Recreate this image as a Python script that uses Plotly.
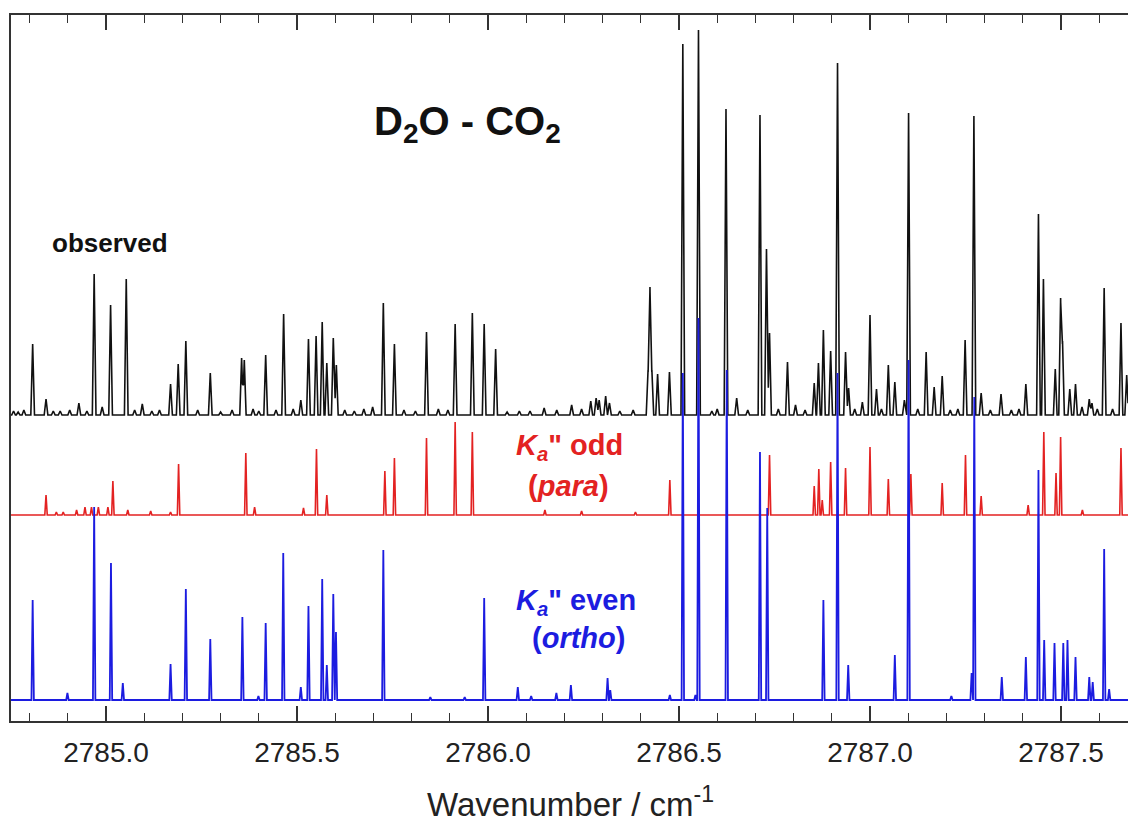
import plotly.graph_objects as go

# ---------------- data ----------------
# wavenumber axis limits (cm^-1)
x_min, x_max = 2784.7513, 2787.6754
tick_vals = [2785.0, 2785.5, 2786.0, 2786.5, 2787.0, 2787.5]
tick_text = ["2785.0", "2785.5", "2786.0", "2786.5", "2787.0", "2787.5"]

# observed spectrum: line positions (cm^-1) and intensities (arb. units)
obs_pos = [2784.758, 2784.770, 2784.785, 2784.808, 2784.843, 2784.862, 2784.880, 2784.905,
           2784.929, 2784.950, 2784.969, 2784.990, 2785.012, 2785.053, 2785.075, 2785.095,
           2785.120, 2785.140, 2785.169, 2785.189, 2785.209, 2785.240, 2785.273, 2785.300,
           2785.330, 2785.355, 2785.362, 2785.385, 2785.400, 2785.418, 2785.445, 2785.465,
           2785.490, 2785.510, 2785.530, 2785.550, 2785.566, 2785.578, 2785.595, 2785.603,
           2785.625, 2785.650, 2785.675, 2785.698, 2785.726, 2785.755, 2785.780, 2785.810,
           2785.839, 2785.870, 2785.895, 2785.914, 2785.959, 2785.990, 2786.020, 2786.050,
           2786.082, 2786.110, 2786.147, 2786.180, 2786.219, 2786.245, 2786.269, 2786.283,
           2786.291, 2786.308, 2786.318, 2786.345, 2786.380, 2786.419, 2786.424, 2786.429,
           2786.444, 2786.475, 2786.510, 2786.551, 2786.586, 2786.600, 2786.623, 2786.651,
           2786.680, 2786.712, 2786.729, 2786.737, 2786.760, 2786.784, 2786.805, 2786.830,
           2786.854, 2786.865, 2786.878, 2786.897, 2786.915, 2786.936, 2786.944, 2786.960,
           2786.980, 2787.000, 2787.017, 2787.030, 2787.048, 2787.065, 2787.090, 2787.101,
           2787.125, 2787.147, 2787.168, 2787.189, 2787.210, 2787.230, 2787.249, 2787.272,
           2787.291, 2787.315, 2787.343, 2787.370, 2787.390, 2787.408, 2787.441, 2787.454,
           2787.485, 2787.499, 2787.504, 2787.523, 2787.538, 2787.555, 2787.574, 2787.581,
           2787.595, 2787.613, 2787.635, 2787.657, 2787.672]
obs_int = [4, 3, 5, 71, 16, 4, 4, 5,
           12, 4, 141, 8, 110, 136, 5, 11,
           4, 5, 31, 51, 74, 5, 42, 3,
           5, 57, 55, 6, 4, 60, 5, 101,
           6, 15, 76, 79, 93, 52, 77, 50,
           5, 4, 6, 8, 112, 71, 5, 4,
           83, 6, 5, 91, 102, 91, 66, 3,
           4, 4, 7, 5, 10, 6, 14, 17,
           15, 19, 12, 4, 5, 45, 128, 45,
           41, 43, 371, 385, 4, 6, 306, 17,
           5, 300, 166, 82, 6, 53, 10, 5,
           32, 52, 85, 64, 352, 63, 27, 6,
           13, 100, 26, 6, 50, 33, 15, 302,
           6, 63, 28, 39, 5, 6, 75, 299,
           22, 5, 21, 5, 6, 31, 201, 136,
           46, 117, 74, 26, 31, 8, 16, 12,
           6, 127, 6, 92, 40]

# simulated Ka" odd (para) lines
para_pos = [2784.843, 2784.870, 2784.888, 2784.923, 2784.945, 2784.962, 2784.980, 2785.005,
            2785.018, 2785.057, 2785.117, 2785.169, 2785.190, 2785.366, 2785.389, 2785.517,
            2785.551, 2785.578, 2785.730, 2785.755, 2785.839, 2785.914, 2785.959, 2786.149,
            2786.245, 2786.386, 2786.476, 2786.737, 2786.854, 2786.866, 2786.875, 2786.897,
            2786.936, 2787.000, 2787.048, 2787.107, 2787.189, 2787.250, 2787.291, 2787.414,
            2787.455, 2787.487, 2787.499, 2787.556, 2787.657]
para_int = [20, 3, 3, 5, 8, 8, 8, 8,
            34, 5, 4, 3, 51, 62, 8, 7,
            66, 20, 44, 57, 77, 93, 83, 5,
            4, 3, 35, 60, 29, 46, 15, 53,
            47, 68, 36, 41, 32, 60, 19, 10,
            83, 42, 78, 5, 67]

# simulated Ka" even (ortho) lines
ortho_pos = [2784.808, 2784.899, 2784.969, 2785.013, 2785.044, 2785.169, 2785.209, 2785.273,
             2785.357, 2785.399, 2785.418, 2785.464, 2785.510, 2785.530, 2785.566, 2785.578,
             2785.595, 2785.602, 2785.726, 2785.849, 2785.939, 2785.990, 2786.078, 2786.113,
             2786.179, 2786.217, 2786.313, 2786.320, 2786.476, 2786.510, 2786.543, 2786.551,
             2786.625, 2786.712, 2786.731, 2786.878, 2786.915, 2786.943, 2787.065, 2787.101,
             2787.213, 2787.266, 2787.273, 2787.345, 2787.408, 2787.441, 2787.456, 2787.483,
             2787.506, 2787.517, 2787.538, 2787.574, 2787.583, 2787.613, 2787.626]
ortho_int = [100, 7, 193, 137, 17, 36, 111, 61,
             83, 4, 77, 147, 13, 94, 121, 35,
             106, 68, 150, 3, 3, 102, 13, 4,
             7, 15, 22, 10, 5, 327, 5, 382,
             330, 248, 192, 100, 327, 35, 45, 340,
             4, 27, 303, 23, 43, 230, 60, 57,
             57, 60, 43, 23, 18, 151, 11]

# vertical offsets of the stacked traces
obs_offset, para_offset, ortho_offset = 306, 206, 21
y_top = 706

# ---------------- helpers ----------------
W, H = 1128, 826
ML, MR, MT, MB = 11, 0, 15, 105
PW, PH = W - ML - MR, H - MT - MB


def px(x):
    return (x - ML) / PW


def py(y):
    return (H - MB - y) / PH


def stick_trace(pos, inten, base, hw, color, width):
    # vertices of each line (baseline-top-baseline); where lines overlap the
    # higher one is kept so neighbouring lines merge instead of zig-zagging
    xs = {x_min, x_max}
    for p in pos:
        xs.update((p - hw, p, p + hw))
    xs = sorted(x for x in xs if x_min <= x <= x_max)
    ys = []
    for x in xs:
        v = 0.0
        for p, h in zip(pos, inten):
            d = abs(x - p)
            if d < hw:
                v = max(v, h * (1 - d / hw))
        ys.append(base + v)
    return go.Scatter(x=xs, y=ys, mode="lines",
                      line=dict(color=color, width=width), hoverinfo="skip",
                      showlegend=False)


RED = "#e32222"
BLUE = "#1c1ce0"
FONT = "Liberation Sans, Arial, sans-serif"

fig = go.Figure()
fig.add_trace(stick_trace(obs_pos, obs_int, obs_offset, 0.0048, "#111111", 1.6))
fig.add_trace(stick_trace(para_pos, para_int, para_offset, 0.0032, RED, 1.6))
fig.add_trace(stick_trace(ortho_pos, ortho_int, ortho_offset, 0.0032, BLUE, 1.8))

annos = [
    dict(text="<b>D<sub>2</sub>O - CO<sub>2</sub></b>", x=px(467), y=py(124), size=40,
         color="#111111", ya="middle"),
    dict(text="<b>observed</b>", x=px(110), y=py(243), size=26, color="#111111", ya="middle"),
    dict(text="<b><i>K</i><sub><i>a</i></sub>\" odd</b>", x=px(569), y=py(447), size=29,
         color=RED, ya="middle"),
    dict(text="<b>(<i>para</i>)</b>", x=px(568), y=py(486), size=29, color=RED, ya="middle"),
    dict(text="<b><i>K</i><sub><i>a</i></sub>\" even</b>", x=px(576), y=py(602), size=29,
         color=BLUE, ya="middle"),
    dict(text="<b>(<i>ortho</i>)</b>", x=px(578), y=py(638), size=29, color=BLUE, ya="middle"),
    dict(text="Wavenumber / cm<sup>-1</sup>", x=px(570), y=py(825), size=33,
         color="#222222", ya="bottom"),
]
for a in annos:
    fig.add_annotation(text=a["text"], x=a["x"], y=a["y"], xref="paper", yref="paper",
                       xanchor="center", yanchor=a["ya"], showarrow=False,
                       font=dict(family=FONT, size=a["size"], color=a["color"]))

fig.update_layout(
    width=W, height=H,
    margin=dict(l=ML, r=MR, t=MT, b=MB, autoexpand=False),
    paper_bgcolor="white", plot_bgcolor="white",
    font=dict(family=FONT, color="#222222"),
    xaxis=dict(range=[x_min, x_max], showgrid=False, zeroline=False,
               showline=True, linecolor="#333333", linewidth=2, mirror="ticks",
               ticks="inside", ticklen=15, tickwidth=1.6, tickcolor="#333333",
               tickvals=tick_vals, ticktext=tick_text,
               tickfont=dict(family=FONT, size=28, color="#222222"),
               ticklabelstandoff=5,
               minor=dict(dtick=0.1, tick0=2785.0, ticks="inside", ticklen=8,
                          tickwidth=1.4, tickcolor="#333333", showgrid=False)),
    yaxis=dict(range=[0, y_top], showgrid=False, zeroline=False, showticklabels=False,
               ticks="", showline=True, linecolor="#333333", linewidth=2, mirror=False),
)

fig.write_html("out.html")
